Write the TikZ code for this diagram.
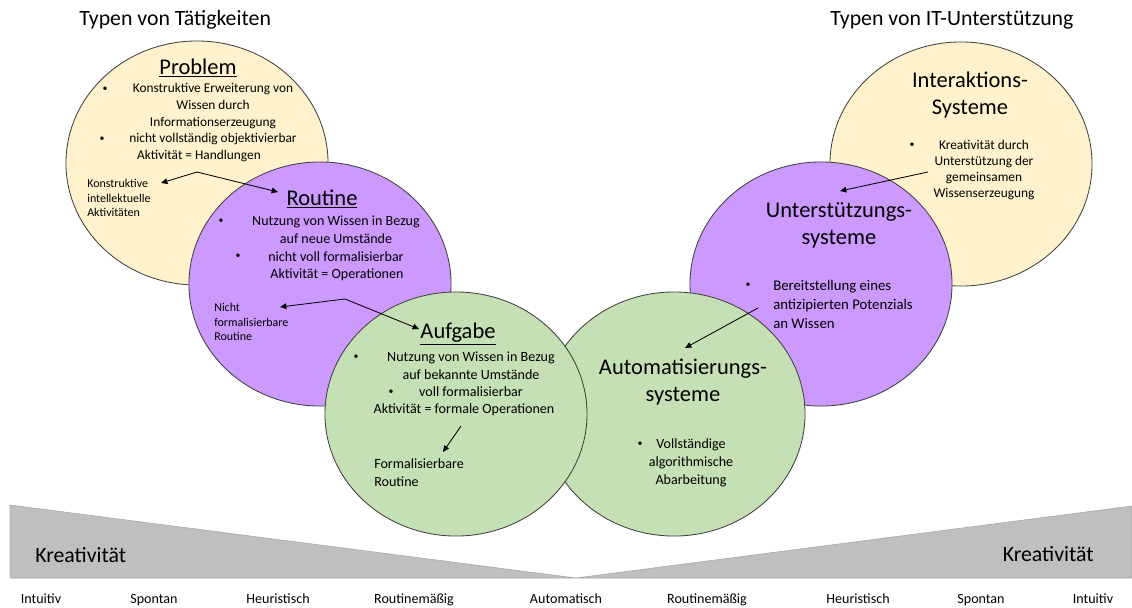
\documentclass[tikz,border=0pt]{standalone}
\usepackage{fontspec}
\setmainfont{Carlito}
\usetikzlibrary{shapes.geometric,arrows.meta}

\begin{document}
\begin{tikzpicture}[x=0.025cm,y=-0.025cm,
    blob/.style={ellipse, draw=black!75, line width=0.6pt, minimum width=6.55cm, minimum height=6.1cm, inner sep=0pt},
    headtxt/.style={font=\fontsize{15.5}{18}\selectfont, anchor=west, inner sep=0pt},
    ctitle/.style={font=\fontsize{16}{19.2}\selectfont, align=center, inner sep=0pt},
    bodytxt/.style={font=\fontsize{10}{12.8}\selectfont, align=center, inner sep=0pt},
    notetxt/.style={font=\fontsize{8.5}{10.4}\selectfont, align=left, anchor=west, inner sep=0pt},
    bullet/.style={font=\fontsize{7}{8}\selectfont, inner sep=0pt},
    scaletxt/.style={font=\fontsize{10}{12}\selectfont, anchor=base, inner sep=0pt},
    arr/.style={-{Triangle[length=4.5pt,width=4pt]}, line width=0.6pt},
    both/.style={{Triangle[length=4.5pt,width=4pt]}-{Triangle[length=4.5pt,width=4pt]}, line width=0.6pt}]

    % Define colors
    \definecolor{pastelyellow}{RGB}{255,242,204}
    \definecolor{pastelpurple}{RGB}{204,153,255}
    \definecolor{pastelgreen}{RGB}{197,224,180}
    \definecolor{wedgegray}{RGB}{191,191,191}

    \useasboundingbox (0,0) rectangle (1132,607);

    % scale at the bottom
    \filldraw[wedgegray, draw=black!35] (10,505) -- (576,578) -- (10,578) -- cycle;
    \filldraw[wedgegray, draw=black!35] (1132,506) -- (576,578) -- (1132,578) -- cycle;

    % circles
    \node[blob, fill=pastelyellow] (problem) at (197,163) {};
    \node[blob, fill=pastelpurple] (routine) at (320,284) {};
    \node[blob, fill=pastelyellow] (interaktion) at (961,164) {};
    \node[blob, fill=pastelpurple] (unterst) at (821,284) {};
    \node[blob, fill=pastelgreen] (automat) at (674,414) {};
    \node[blob, fill=pastelgreen] (aufgabe) at (456,414) {};

    % headings
    \node[headtxt] (lhead) at (79,20) {Typen von Tätigkeiten};
    \node[headtxt] (rhead) at (830,20) {Typen von IT-Unterstützung};

    % Problem
    \node[ctitle] (ptitle) at (198,68) {\underline{Problem}};
    \node[bullet] (pb1) at (105,89) {•};
    \node[bodytxt, font=\fontsize{9.5}{12.1}\selectfont] (pt1) at (213,106) {Konstruktive Erweiterung von\\Wissen durch\\Informationserzeugung};
    \node[bullet] (pb2) at (102,139) {•};
    \node[bodytxt, font=\fontsize{9.5}{12.1}\selectfont] (pt2) at (213,139) {nicht vollständig objektivierbar};
    \node[bodytxt, font=\fontsize{9.5}{12.1}\selectfont] (pt3) at (199,156) {Aktivität = Handlungen};
    \node[notetxt] (pnote) at (87,198) {Konstruktive\\intellektuelle\\Aktivitäten};

    % Routine
    \node[ctitle] (rtitle) at (322,199) {\underline{Routine}};
    \node[bullet] (rb1) at (221,221) {•};
    \node[bodytxt] (rt1) at (336,230) {Nutzung von Wissen in Bezug\\auf neue Umstände};
    \node[bullet] (rb2) at (238,256) {•};
    \node[bodytxt] (rt2) at (336,257) {nicht voll formalisierbar};
    \node[bodytxt] (rt3) at (337,275) {Aktivität = Operationen};
    \node[notetxt] (rnote) at (214,322) {Nicht\\formalisierbare\\Routine};

    % Aufgabe
    \node[ctitle] (atitle) at (458,334) {\underline{Aufgabe}};
    \node[bullet] (ab1) at (356,357) {•};
    \node[bodytxt] (at1) at (471,366) {Nutzung von Wissen in Bezug\\auf bekannte Umstände};
    \node[bullet] (ab2) at (391,392) {•};
    \node[bodytxt] (at2) at (471,392) {voll formalisierbar};
    \node[bodytxt] (at3) at (464,410) {Aktivität = formale Operationen};
    \node[notetxt, font=\fontsize{10}{12.8}\selectfont] (anote) at (374,473) {Formalisierbare\\Routine};

    % Automatisierungssysteme
    \node[ctitle] (stitle) at (683,382) {Automatisierungs-\\systeme};
    \node[bullet] (sb) at (640,444) {•};
    \node[bodytxt, font=\fontsize{10}{13}\selectfont] (st) at (691,463) {Vollständige\\algorithmische\\Abarbeitung};

    % Unterstuetzungssysteme
    \node[ctitle] (utitle) at (839,225) {Unterstützungs-\\systeme};
    \node[bullet] (ub) at (748,285) {•};
    \node[notetxt, font=\fontsize{10.5}{13.5}\selectfont] (ut) at (773,304) {Bereitstellung eines\\antizipierten Potenzials\\an Wissen};

    % Interaktionssysteme
    \node[ctitle] (ititle) at (970,95) {Interaktions-\\Systeme};
    \node[bullet] (ib) at (912,145) {•};
    \node[bodytxt, font=\fontsize{9.5}{11.6}\selectfont] (it) at (984,170) {Kreativität durch\\Unterstützung der\\gemeinsamen\\Wissenserzeugung};

    % arrow points
    \coordinate (pl) at (161,183);
    \coordinate (pm) at (197,172);
    \coordinate (pr) at (278,192);
    \coordinate (rl) at (280,307);
    \coordinate (rm) at (345,299);
    \coordinate (rr) at (419,329);
    \coordinate (as) at (461,426);
    \coordinate (ae) at (443,452);
    \coordinate (is) at (928,172);
    \coordinate (ie) at (840,191);
    \coordinate (us) at (758,308);
    \coordinate (ue) at (685,348);

    \draw[both] (pl) -- (pm) -- (pr);
    \draw[both] (rl) -- (rm) -- (rr);
    \draw[arr] (as) -- (ae);
    \draw[arr] (is) -- (ie);
    \draw[arr] (us) -- (ue);

    % Kreativitaet
    \node[headtxt] (kl) at (35,555) {Kreativität};
    \node[headtxt, anchor=east] (kr) at (1094,554) {Kreativität};

    % scale labels
    \node[scaletxt] (s1) at (41,603) {Intuitiv};
    \node[scaletxt] (s2) at (154,603) {Spontan};
    \node[scaletxt] (s3) at (278,603) {Heuristisch};
    \node[scaletxt] (s4) at (414,603) {Routinemäßig};
    \node[scaletxt] (s5) at (566,603) {Automatisch};
    \node[scaletxt] (s6) at (707,603) {Routinemäßig};
    \node[scaletxt] (s7) at (858,603) {Heuristisch};
    \node[scaletxt] (s8) at (981,603) {Spontan};
    \node[scaletxt] (s9) at (1093,603) {Intuitiv};

\end{tikzpicture}
\end{document}
